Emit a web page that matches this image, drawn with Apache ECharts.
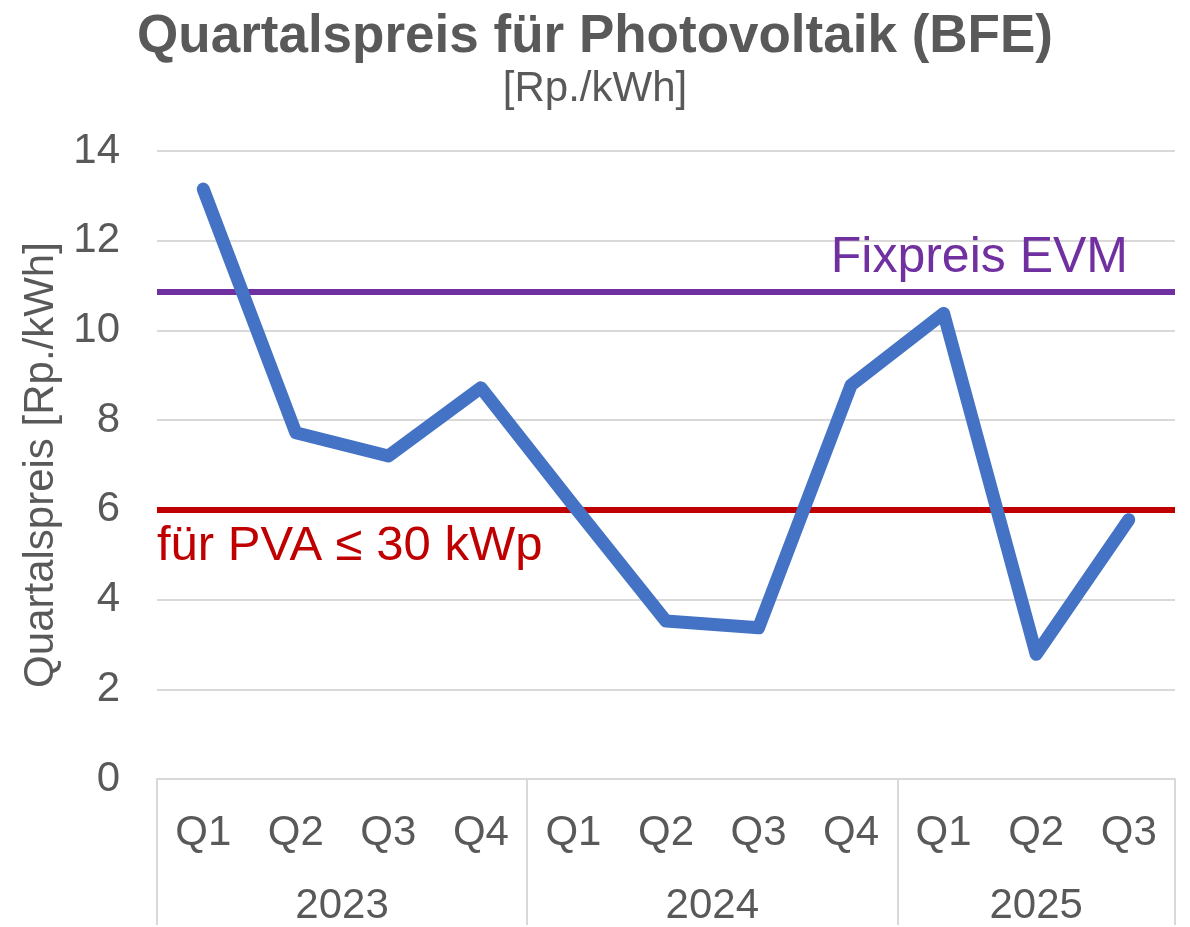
<!DOCTYPE html>
<html>
<head>
<meta charset="utf-8">
<script src="https://cdn.jsdelivr.net/npm/echarts@6/dist/echarts.min.js"></script>
<style>html,body{margin:0;padding:0;background:#fff;}#c{width:1190px;height:927px;}</style>
</head>
<body>
<div id="c"></div>
<script>
var quarters = ["Q1","Q2","Q3","Q4","Q1","Q2","Q3","Q4","Q1","Q2","Q3"];
var years = ["2023","2024","2025"];
var yearStarts = [0, 4, 8, 11];
var yearCenters = [2, 6, 9.5];
var prices = [13.15, 7.72, 7.2, 8.72, 6.1, 3.52, 3.37, 8.78, 10.38, 2.78, 5.78];
var fixpreisEVM = 10.87;
var pvaLimit = 6.0;
var fixLabel = "Fixpreis EVM";
var pvaLabel = "für PVA ≤ 30 kWp";

var FONT = "Liberation Sans, Arial, sans-serif";
var chart = echarts.init(document.getElementById('c'), null, {renderer: 'canvas'});
chart.setOption({
  backgroundColor: '#ffffff',
  animation: false,
  title: {
    text: 'Quartalspreis für Photovoltaik (BFE)',
    subtext: '[Rp./kWh]',
    left: 'center',
    top: 6,
    itemGap: 4,
    textStyle: {fontFamily: FONT, fontSize: 53, fontWeight: 'bold', color: '#595959'},
    subtextStyle: {fontFamily: FONT, fontSize: 42, color: '#595959'}
  },
  grid: {left: 157, right: 15, top: 151, bottom: 146, containLabel: false},
  xAxis: [{
    type: 'category',
    data: quarters,
    boundaryGap: true,
    axisLine: {show: true, lineStyle: {color: '#d9d9d9', width: 2}},
    axisTick: {show: false},
    axisLabel: {fontFamily: FONT, fontSize: 42, color: '#595959', margin: 33, interval: 0}
  }, {
    type: 'value',
    position: 'bottom',
    min: 0, max: 11,
    axisLine: {show: false},
    splitLine: {show: false},
    axisTick: {show: true, customValues: yearStarts, length: 146, lineStyle: {color: '#d9d9d9', width: 2}},
    axisLabel: {
      customValues: yearCenters,
      fontFamily: FONT, fontSize: 42, color: '#595959', margin: 106,
      formatter: function (v) { var i = yearCenters.indexOf(v); return i >= 0 ? years[i] : ''; }
    }
  }],
  yAxis: {
    type: 'value',
    min: 0, max: 14, interval: 2,
    name: 'Quartalspreis [Rp./kWh]',
    nameLocation: 'middle',
    nameGap: 92,
    nameTextStyle: {fontFamily: FONT, fontSize: 42, color: '#595959'},
    axisLine: {show: false},
    axisTick: {show: false},
    axisLabel: {fontFamily: FONT, fontSize: 42, color: '#595959', margin: 37},
    splitLine: {lineStyle: {color: '#d9d9d9', width: 2}}
  },
  series: [{
    type: 'line',
    data: prices,
    xAxisIndex: 0,
    symbol: 'none',
    lineStyle: {color: '#4472C4', width: 13, cap: 'round', join: 'round'},
    z: 5,
    markLine: {
      silent: true,
      symbol: ['none', 'none'],
      z: 3,
      data: [
        {yAxis: fixpreisEVM, lineStyle: {color: '#7030A0', width: 6, type: 'solid'},
         label: {show: true, formatter: fixLabel, position: 'insideEndTop', distance: [47, 8],
                 fontFamily: FONT, fontSize: 50, color: '#7030A0'}},
        {yAxis: pvaLimit, lineStyle: {color: '#C00000', width: 6, type: 'solid'},
         label: {show: true, formatter: pvaLabel, position: 'insideStartBottom', distance: [0, 12],
                 fontFamily: FONT, fontSize: 49, color: '#C00000'}}
      ]
    }
  }]
});
</script>
</body>
</html>
